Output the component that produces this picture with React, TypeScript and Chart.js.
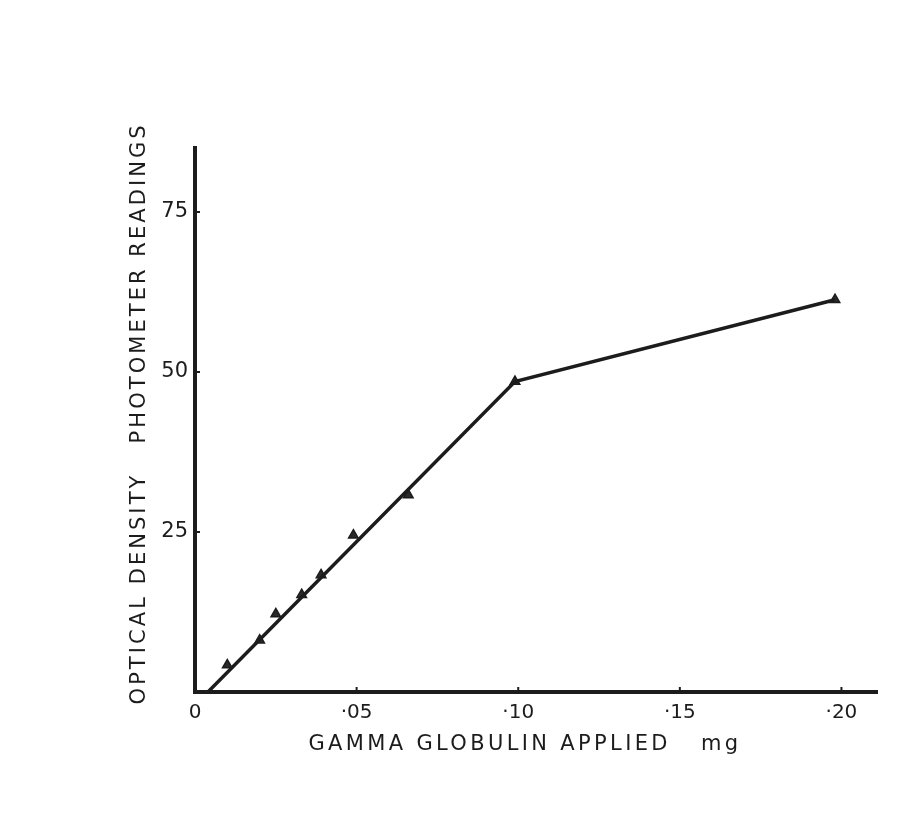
import React, { useEffect, useRef } from 'react';
import { Chart, registerables } from 'chart.js';
Chart.register(...registerables);

// Tick values
const xTickValues = [0, 0.05, 0.1, 0.15, 0.2];
const yTickValues = [0, 25, 50, 75];

// Measured points (triangles)
const measuredX = [0.010, 0.020, 0.025, 0.033, 0.039, 0.049, 0.066, 0.099, 0.198];
const measuredY = [4.2, 8.1, 12.2, 15.2, 18.3, 24.5, 30.8, 48.5, 61.3];

// Drawn line
const lineX = [0.004, 0.099, 0.198];
const lineY = [0, 48.5, 61.3];

const xTitle = 'GAMMA GLOBULIN APPLIED   mg';
const yTitle = 'OPTICAL DENSITY   PHOTOMETER READINGS';

const INK = '#1c1c1c';
const FONT = '"DejaVu Sans", sans-serif';

function fmtX(v: number): string {
  if (Math.abs(v) < 1e-9) return '0';
  const n = Math.round(v * 100);
  return '\u00B7' + (n < 10 ? '0' + n : String(n));
}

const titlePlugin = {
  id: 'customTitles',
  beforeDraw(chart: any) {
    const { ctx, width, height } = chart;
    ctx.save();
    ctx.fillStyle = '#ffffff';
    ctx.fillRect(0, 0, width, height);
    ctx.restore();
  },
  afterDraw(chart: any) {
    const { ctx, chartArea, scales } = chart;
    const xs = scales.x;
    const ys = scales.y;
    ctx.save();
    ctx.fillStyle = INK;
    ctx.font = `21px ${FONT}`;
    ctx.textAlign = 'center';
    ctx.textBaseline = 'middle';
    // x title
    const xTarget = 433;
    ctx.letterSpacing = '0px';
    const wx = ctx.measureText(xTitle).width;
    const lsx = Math.max(0, (xTarget - wx) / xTitle.length);
    ctx.letterSpacing = lsx.toFixed(2) + 'px';
    ctx.fillText(xTitle, xs.getPixelForValue(0.1) + 5 + lsx / 2, chartArea.bottom + 53);
    // y title
    const yTarget = 582;
    ctx.letterSpacing = '0px';
    const wy = ctx.measureText(yTitle).width;
    const lsy = Math.max(0, (yTarget - wy) / yTitle.length);
    ctx.letterSpacing = lsy.toFixed(2) + 'px';
    ctx.translate(chartArea.left - 55, ys.getPixelForValue(43.3));
    ctx.rotate(-Math.PI / 2);
    ctx.fillText(yTitle, lsy / 2, 0);
    ctx.restore();

    // small inward tick marks
    ctx.save();
    ctx.strokeStyle = INK;
    ctx.lineWidth = 2;
    ctx.beginPath();
    for (const v of xTickValues) {
      if (v === 0) continue;
      const px = xs.getPixelForValue(v);
      ctx.moveTo(px, chartArea.bottom);
      ctx.lineTo(px, chartArea.bottom - 5);
    }
    for (const v of yTickValues) {
      if (v === 0) continue;
      const py = ys.getPixelForValue(v);
      ctx.moveTo(chartArea.left, py);
      ctx.lineTo(chartArea.left + 5, py);
    }
    ctx.stroke();
    ctx.restore();
  },
};

export default function App() {
  const ref = useRef<HTMLCanvasElement | null>(null);
  useEffect(() => {
    if (!ref.current) return;
    const chart = new Chart(ref.current, {
      type: 'scatter',
      data: {
        datasets: [
          {
            type: 'line',
            label: 'line',
            data: lineX.map((x, i) => ({ x, y: lineY[i] })),
            borderColor: INK,
            borderWidth: 3.5,
            pointRadius: 0,
            fill: false,
            tension: 0,
          } as any,
          {
            label: 'measured',
            data: measuredX.map((x, i) => ({ x, y: measuredY[i] })),
            pointStyle: 'triangle',
            pointRadius: 5.5,
            backgroundColor: '#2a2a2a',
            borderColor: INK,
            borderWidth: 1.5,
            showLine: false,
          },
        ],
      },
      options: {
        animation: false,
        responsive: false,
        maintainAspectRatio: false,
        layout: { padding: { left: 0, right: 44, top: 148, bottom: 0 } },
        plugins: { legend: { display: false }, tooltip: { enabled: false } },
        scales: {
          x: {
            type: 'linear',
            min: 0,
            max: 0.211,
            afterBuildTicks: (s: any) => {
              s.ticks = xTickValues.map((v) => ({ value: v }));
            },
            afterFit: (s: any) => {
              s.height = 815 - 692;
            },
            grid: { display: false, drawTicks: false },
            border: { display: true, width: 4, color: INK },
            ticks: {
              padding: 9,
              color: INK,
              font: { family: FONT, size: 20 },
              maxRotation: 0,
              autoSkip: false,
              callback: (v: any) => fmtX(Number(v)),
            },
          },
          y: {
            type: 'linear',
            min: 0,
            max: 85,
            afterBuildTicks: (s: any) => {
              s.ticks = yTickValues.map((v) => ({ value: v }));
            },
            afterFit: (s: any) => {
              s.width = 195;
            },
            grid: { display: false, drawTicks: false },
            border: { display: true, width: 4, color: INK },
            ticks: {
              padding: 7,
              color: INK,
              font: { family: FONT, size: 21 },
              autoSkip: false,
              callback: (v: any) => (Number(v) === 0 ? '' : String(v)),
            },
          },
        },
      },
      plugins: [titlePlugin],
    });
    return () => chart.destroy();
  }, []);
  return (
    <div style={{ position: 'fixed', left: 0, top: 0, width: 921, height: 815, background: '#fff' }}>
      <canvas ref={ref} width={921} height={815} style={{ width: 921, height: 815, display: 'block' }} />
    </div>
  );
}
